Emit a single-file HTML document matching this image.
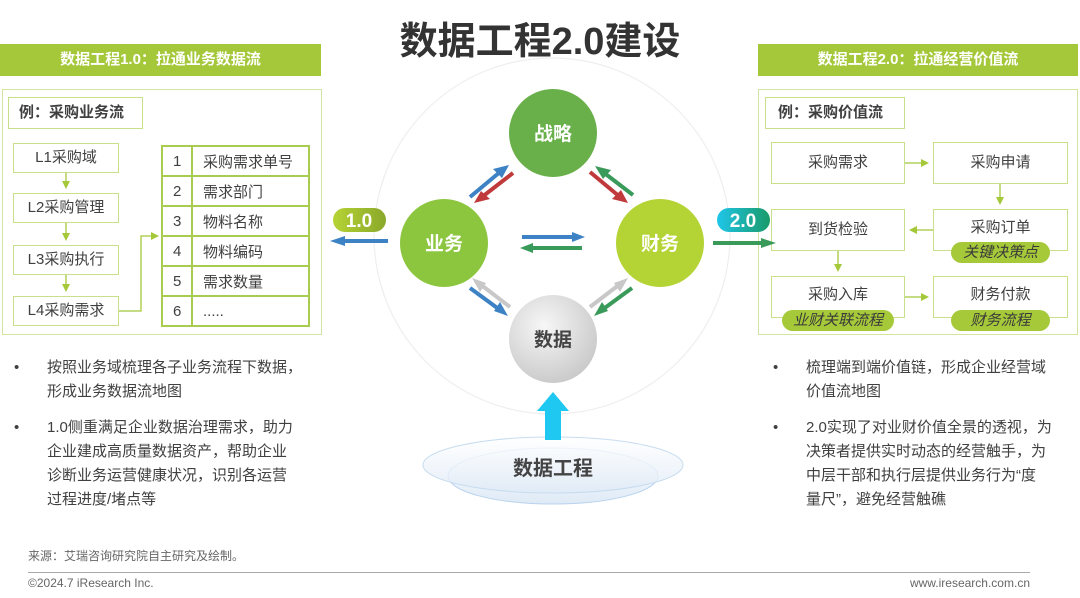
<!DOCTYPE html>
<html><head><meta charset="utf-8"><style>
*{margin:0;padding:0;box-sizing:border-box}
body{width:1080px;height:598px;background:#fff;position:relative;overflow:hidden;font-family:"Liberation Sans","Noto Sans CJK SC",sans-serif;color:#404040}
.a{position:absolute}
.hdr{position:absolute;top:44px;height:32px;background:#a4c83a;color:#fff;font-weight:bold;font-size:15px;text-align:center;line-height:32px}
.panel{position:absolute;border:1.5px solid #d3e6a0}
.box{position:absolute;border:1.5px solid #c8e08a;background:#fff;text-align:center;font-size:15px;color:#404040}
.pill{position:absolute;height:21px;border-radius:11px;background:#a6c93a;color:#3a3a3a;font-style:italic;font-size:15px;text-align:center;line-height:21px}
.bul{position:absolute;font-size:15px;line-height:24px;color:#404040;white-space:nowrap}
.bul .d{position:absolute;left:-33px}
table{border-collapse:collapse}
td{border:2px solid #a8cc50;height:30px;font-size:15px;padding-left:10px}
</style></head><body>
<div class="a" style="left:0;width:1080px;top:10px;text-align:center;font-size:38px;font-weight:bold;color:#333">数据工程2.0建设</div>

<div class="hdr" style="left:0;width:321px">数据工程1.0：拉通业务数据流</div>
<div class="hdr" style="left:758px;width:320px">数据工程2.0：拉通经营价值流</div>

<div class="panel" style="left:2px;top:89px;width:320px;height:246px"></div>
<div class="box" style="left:8px;top:97px;width:135px;height:32px;line-height:29px;font-weight:bold;text-align:left;padding-left:10px">例：采购业务流</div>
<div class="box" style="left:13px;top:143px;width:106px;height:30px;line-height:27px">L1采购域</div>
<div class="box" style="left:13px;top:193px;width:106px;height:30px;line-height:27px">L2采购管理</div>
<div class="box" style="left:13px;top:245px;width:106px;height:30px;line-height:27px">L3采购执行</div>
<div class="box" style="left:13px;top:296px;width:106px;height:30px;line-height:27px">L4采购需求</div>
<table class="a" style="left:161px;top:145px;width:149px">
<tr><td style="width:30px">1</td><td>采购需求单号</td></tr>
<tr><td>2</td><td>需求部门</td></tr>
<tr><td>3</td><td>物料名称</td></tr>
<tr><td>4</td><td>物料编码</td></tr>
<tr><td>5</td><td>需求数量</td></tr>
<tr><td>6</td><td>.....</td></tr>
</table>

<div class="panel" style="left:758px;top:89px;width:320px;height:246px"></div>
<div class="box" style="left:765px;top:97px;width:140px;height:32px;line-height:29px;font-weight:bold;text-align:left;padding-left:12px">例：采购价值流</div>
<div class="box" style="left:771px;top:142px;width:134px;height:42px;line-height:39px">采购需求</div>
<div class="box" style="left:933px;top:142px;width:135px;height:42px;line-height:39px">采购申请</div>
<div class="box" style="left:771px;top:209px;width:134px;height:42px;line-height:39px">到货检验</div>
<div class="box" style="left:933px;top:209px;width:135px;height:42px;line-height:36px">采购订单</div>
<div class="box" style="left:771px;top:276px;width:134px;height:42px;line-height:36px">采购入库</div>
<div class="box" style="left:933px;top:276px;width:135px;height:42px;line-height:36px">财务付款</div>
<div class="pill" style="left:951px;top:242px;width:99px">关键决策点</div>
<div class="pill" style="left:782px;top:310px;width:112px">业财关联流程</div>
<div class="pill" style="left:951px;top:310px;width:99px">财务流程</div>

<svg class="a" style="left:0;top:0" width="1080" height="598">
<defs>
<marker id="g" markerWidth="8" markerHeight="8" refX="6" refY="4" orient="auto" markerUnits="userSpaceOnUse"><path d="M0,0L8,4L0,8z" fill="#a4c83a"/></marker>
<radialGradient id="gr" cx="40%" cy="35%" r="70%"><stop offset="0" stop-color="#f7f7f7"/><stop offset="1" stop-color="#c8c8c8"/></radialGradient>
<linearGradient id="ell" x1="0" y1="0" x2="0" y2="1"><stop offset="0" stop-color="#fff"/><stop offset="1" stop-color="#dfeaf6"/></linearGradient>
<linearGradient id="p1" x1="0" x2="1"><stop offset="0" stop-color="#b6d335"/><stop offset="1" stop-color="#8aa82a"/></linearGradient>
<linearGradient id="p2" x1="0" x2="1"><stop offset="0" stop-color="#1fc6ea"/><stop offset="1" stop-color="#1a9a68"/></linearGradient>
</defs>
<g stroke="#a4c83a" stroke-width="1.3" fill="none">
<path d="M66,173V187" marker-end="url(#g)"/><path d="M66,223V239" marker-end="url(#g)"/><path d="M66,275V290" marker-end="url(#g)"/>
<path d="M119,311H141V236H157" marker-end="url(#g)"/>
<path d="M905,163H927" marker-end="url(#g)"/><path d="M1000,184V203" marker-end="url(#g)"/>
<path d="M933,230H911" marker-end="url(#g)"/><path d="M838,251V270" marker-end="url(#g)"/>
<path d="M905,297H927" marker-end="url(#g)"/>
</g>
<circle cx="552" cy="236" r="178" fill="none" stroke="#eeeeee" stroke-width="1.2"/>
<ellipse cx="553" cy="476" rx="105" ry="28" fill="url(#ell)" stroke="#b9d3ee"/>
<ellipse cx="553" cy="465" rx="130" ry="28" fill="url(#ell)" stroke="#c7dcf0" fill-opacity="0.8"/>
<path d="M537,411L553,392L569,411H561V440H545V411z" fill="#1fc8f0"/>
<g stroke-width="4" fill="none">
<line x1="470" y1="197" x2="500" y2="172" stroke="#3d82c4"/><path d="M509,165L493,169L502,178z" fill="#3d82c4"/>
<line x1="513" y1="173" x2="482" y2="197" stroke="#c0393b"/><path d="M474,203L490,199L481,191z" fill="#c0393b"/>
<line x1="590" y1="172" x2="620" y2="197" stroke="#c0393b"/><path d="M628,203L612,199L621,190z" fill="#c0393b"/>
<line x1="633" y1="195" x2="603" y2="172" stroke="#3a9a5a"/><path d="M595,166L611,170L603,179z" fill="#3a9a5a"/>
<line x1="522" y1="237" x2="575" y2="237" stroke="#3d82c4"/><path d="M585,237L572,232V242z" fill="#3d82c4"/>
<line x1="582" y1="248" x2="530" y2="248" stroke="#3a9a5a"/><path d="M520,248L533,243V253z" fill="#3a9a5a"/>
<line x1="470" y1="288" x2="500" y2="310" stroke="#3d82c4"/><path d="M508,316L500,302L494,311z" fill="#3d82c4"/>
<line x1="510" y1="307" x2="480" y2="284" stroke="#c8c8c8"/><path d="M472,278L480,292L486,283z" fill="#c8c8c8"/>
<line x1="590" y1="307" x2="620" y2="284" stroke="#c8c8c8"/><path d="M628,278L614,283L620,292z" fill="#c8c8c8"/>
<line x1="632" y1="288" x2="602" y2="310" stroke="#3a9a5a"/><path d="M594,316L602,302L608,311z" fill="#3a9a5a"/>
<line x1="388" y1="241" x2="340" y2="241" stroke="#3d82c4"/><path d="M330,241L345,236V246z" fill="#3d82c4"/>
<line x1="713" y1="243" x2="765" y2="243" stroke="#3a9a5a"/><path d="M776,243L761,238V248z" fill="#3a9a5a"/>
</g>
<rect x="333" y="208" width="53" height="24" rx="12" fill="url(#p1)"/>
<text x="359" y="227" text-anchor="middle" fill="#fff" font-size="19" font-weight="bold" font-family="Liberation Sans">1.0</text>
<rect x="717" y="208" width="53" height="24" rx="12" fill="url(#p2)"/>
<text x="743" y="227" text-anchor="middle" fill="#fff" font-size="19" font-weight="bold" font-family="Liberation Sans">2.0</text>
<circle cx="553" cy="133" r="44" fill="#69b04a"/>
<circle cx="444" cy="243" r="44" fill="#8cc63f"/>
<circle cx="660" cy="243" r="44" fill="#b4d334"/>
<circle cx="553" cy="339" r="44" fill="url(#gr)"/>
<g font-family="Liberation Sans,Noto Sans CJK SC,sans-serif" font-weight="bold" font-size="19" text-anchor="middle">
<text x="553" y="140" fill="#fff">战略</text>
<text x="444" y="250" fill="#fff">业务</text>
<text x="660" y="250" fill="#fff">财务</text>
<text x="553" y="346" fill="#444">数据</text>
<text x="553" y="475" fill="#444" font-size="20">数据工程</text>
</g>
</svg>

<div class="bul" style="left:47px;top:356px"><span class="d">•</span>按照业务域梳理各子业务流程下数据，<br>形成业务数据流地图</div>
<div class="bul" style="left:47px;top:416px"><span class="d">•</span>1.0侧重满足企业数据治理需求，助力<br>企业建成高质量数据资产，帮助企业<br>诊断业务运营健康状况，识别各运营<br>过程进度/堵点等</div>
<div class="bul" style="left:806px;top:356px"><span class="d">•</span>梳理端到端价值链，形成企业经营域<br>价值流地图</div>
<div class="bul" style="left:806px;top:416px"><span class="d">•</span>2.0实现了对业财价值全景的透视，为<br>决策者提供实时动态的经营触手，为<br>中层干部和执行层提供业务行为“度<br>量尺”，避免经营触礁</div>

<div class="a" style="left:28px;top:547px;font-size:12px;color:#666">来源：艾瑞咨询研究院自主研究及绘制。</div>
<div class="a" style="left:28px;top:572px;width:1002px;height:1px;background:#aaa"></div>
<div class="a" style="left:28px;top:576px;font-size:12px;color:#666">©2024.7 iResearch Inc.</div>
<div class="a" style="right:50px;top:576px;font-size:12px;color:#666">www.iresearch.com.cn</div>
</body></html>
